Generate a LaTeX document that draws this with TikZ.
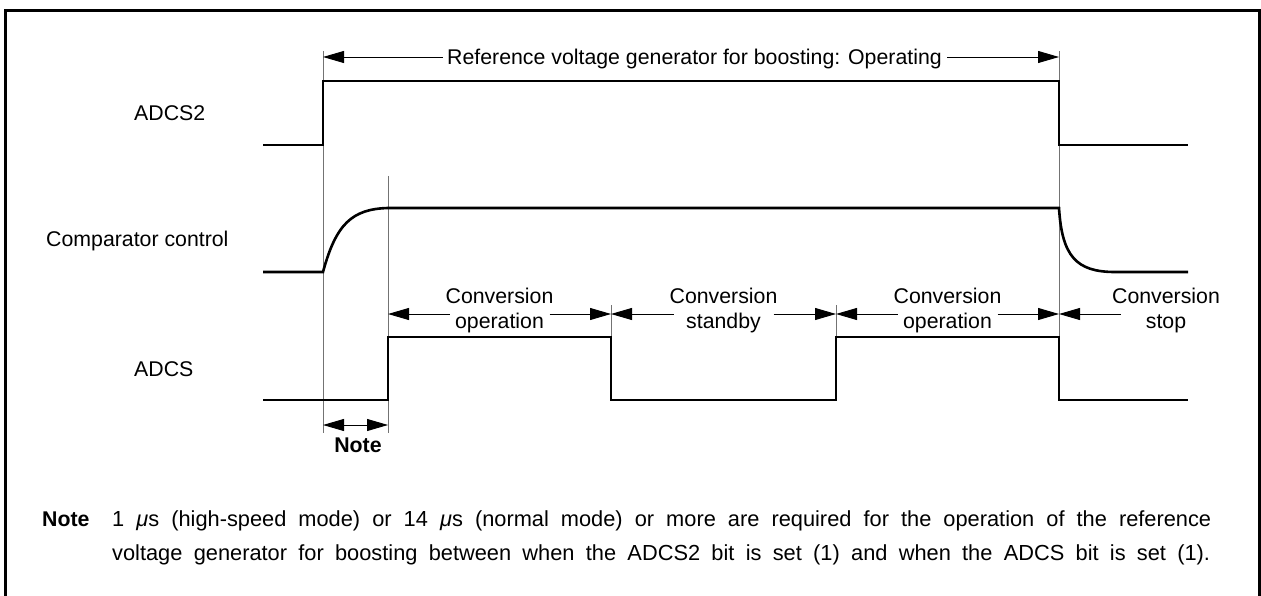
\documentclass[tikz,border=0pt]{standalone}
\usepackage{fontspec}
\setmainfont{Liberation Sans}
\usetikzlibrary{arrows.meta}
\begin{document}
\begin{tikzpicture}[x=1pt,y=-1pt,
  sig/.style={line width=2.6pt, line join=miter, line cap=butt},
  guide/.style={line width=0.9pt, draw=black!55},
  dimline/.style={line width=0.9pt, {Triangle[length=21pt,width=12pt]}-{Triangle[length=21pt,width=12pt]}},
  dimleft/.style={line width=0.9pt, {Triangle[length=21pt,width=12pt]}-},
  dimright/.style={line width=0.9pt, -{Triangle[length=21pt,width=12pt]}},
  lbl/.style={font=\fontsize{21.3}{25}\selectfont, inner sep=0pt},
  blbl/.style={font=\fontsize{21.3}{25}\selectfont\bfseries, inner sep=0pt},
  notetxt/.style={font=\fontsize{21.8}{28}\selectfont, inner sep=0pt},
]
\useasboundingbox (0,0) rectangle (1261,596);
% frame
\draw[line width=3pt] (5.5,610) -- (5.5,10.3) -- (1259,10.3) -- (1259,610);

% guide lines
\draw[guide] (323,51) -- (323,433);
\draw[guide] (388,176) -- (388,433);
\draw[guide] (611,305) -- (611,337);
\draw[guide] (836,305) -- (836,337);
\draw[guide] (1059,51) -- (1059,400);

% signal names
\node[lbl, anchor=west] (nadcs2) at (134,113) {ADCS2};
\node[lbl, anchor=west] (ncomp) at (46,241) {Comparator control};
\node[lbl, anchor=west] (nadcs) at (134,369) {ADCS};

% signals
\draw[sig] (263,145) -- (323,145) -- (323,81) -- (1059,81) -- (1059,145) -- (1188,145);
\draw[sig] (263,272) -- (323,272) .. controls (336,224) and (352,209) .. (388,208) -- (1059,208)
  .. controls (1062,256) and (1076,272) .. (1115,272) -- (1188,272);
\draw[sig] (263,400) -- (388,400) -- (388,337) -- (611,337) -- (611,400) -- (836,400)
  -- (836,337) -- (1059,337) -- (1059,400) -- (1188,400);

% top dimension
\coordinate (a1) at (323,57);
\coordinate (a2) at (1059,57);
\node[lbl, anchor=base] (ref) at (694.5,65) {Reference voltage generator for boosting: Operating};
\draw[dimleft] (a1) -- (443,57);
\draw[dimright] (947,57) -- (a2);

% conversion dimensions
\coordinate (c1) at (388,314);
\coordinate (c2) at (611,314);
\coordinate (c3) at (836,314);
\coordinate (c4) at (1059,314);
\coordinate (c5) at (1121,314);
\draw[dimleft] (c1) -- (449.5,314);
\draw[dimright] (549.5,314) -- (c2);
\draw[dimleft] (c2) -- (673.5,314);
\draw[dimright] (773.5,314) -- (c3);
\draw[dimleft] (c3) -- (897.5,314);
\draw[dimright] (997.5,314) -- (c4);
\draw[dimleft] (c4) -- (c5);
\node[lbl, anchor=base] (op1a) at (499.5,303) {Conversion};
\node[lbl, anchor=base] (op1b) at (499.5,328) {operation};
\node[lbl, anchor=base] (stbya) at (723.5,303) {Conversion};
\node[lbl, anchor=base] (stbyb) at (723.5,328) {standby};
\node[lbl, anchor=base] (op2a) at (947.5,303) {Conversion};
\node[lbl, anchor=base] (op2b) at (947.5,328) {operation};
\node[lbl, anchor=base] (stopa) at (1166,303) {Conversion};
\node[lbl, anchor=base] (stopb) at (1166,328) {stop};

% note dimension
\coordinate (n1) at (323,425);
\coordinate (n2) at (388,425);
\draw[dimline] (n1) -- (n2);
\node[blbl, anchor=base] (notelbl) at (358,452) {Note};

% note text
\node[blbl, anchor=base west] (notehd) at (42,526) {Note};
\node[notetxt, anchor=base west] (note1) at (112,526) {\makebox[1099pt][s]{1 {\itshape μ}s (high-speed mode) or 14 {\itshape μ}s (normal mode) or more are required for the operation of the reference}};
\node[notetxt, anchor=base west] (note2) at (112,560) {\makebox[1098pt][s]{voltage generator for boosting between when the ADCS2 bit is set (1) and when the ADCS bit is set (1).}};
\end{tikzpicture}
\end{document}
